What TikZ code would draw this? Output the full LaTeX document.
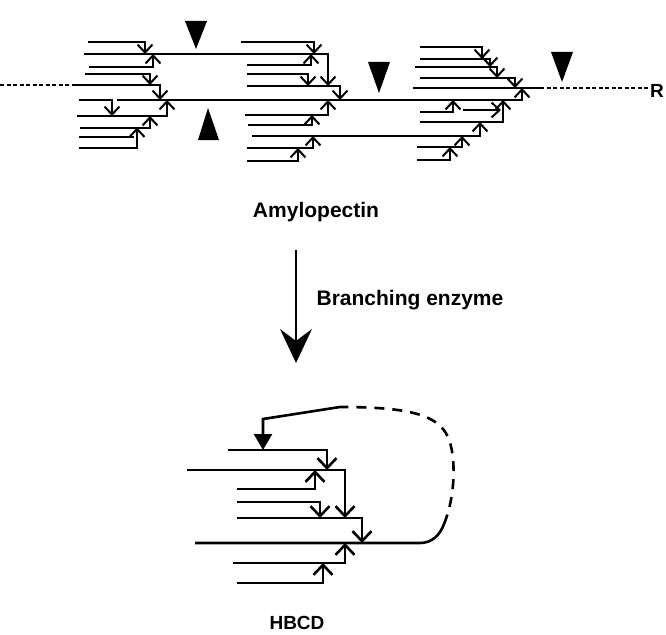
\documentclass[tikz,border=0pt]{standalone}
\usepackage{fontspec}
\setmainfont{Liberation Sans}
\usetikzlibrary{arrows.meta}
\begin{document}
\begin{tikzpicture}[x=1pt,y=-1pt,
  br/.style={line width=2pt,-{Straight Barb[length=8pt,width=15pt]}},
  pl/.style={line width=2pt},
  dotl/.style={line width=2pt, dash pattern=on 4pt off 2.5pt},
  hb/.style={line width=2.6pt,-{Straight Barb[length=10pt,width=19pt]}},
  hl/.style={line width=2.6pt},
  hdash/.style={line width=2.6pt, dash pattern=on 10pt off 8pt},
  tri/.style={fill=black},
  lbl/.style={font=\fontsize{21}{25}\selectfont\bfseries, inner sep=0pt, anchor=base},
  bigarrow/.style={line width=1.8pt,-{Stealth[length=34pt,width=32pt,inset=12pt]}}]
\useasboundingbox (0,0) rectangle (666,634);

% ---------- cluster 1 ----------
\draw[br] (88,42.5) -| (145,54);
\draw[br] (89,67) -| (153,54);
\draw[br] (85,74) -| (150,85);
\draw[dotl] (0,85) -- (75,85);
\draw[br] (75,85) -| (160,100);
\draw[br] (79,100) -| (112,116);
\draw[br] (77,116) -| (167,100);
\draw[br] (80,127.5) -| (150,116);
\draw[pl] (79,137) -- (134,137);
\draw[br] (79,148) -| (137,127.5);
\draw[br] (84,54) -| (328,86);

% ---------- cluster 2 ----------
\draw[br] (241,42.5) -| (314,54);
\draw[br] (247,65) -| (311,54);
\draw[br] (247,74) -| (308,86);
\draw[br] (247,86) -| (340,100);
\draw[br] (117,100) -| (522,88);
\draw[br] (245,115) -| (328,100);
\draw[br] (248,125) -| (312,115);
\draw[br] (252,136) -| (480,122);
\draw[br] (247,148) -| (313,136);
\draw[br] (247,161) -| (298,148);

% ---------- cluster 3 ----------
\draw[br] (420,47) -| (482,59);
\draw[br] (420,59) -| (490,67);
\draw[br] (415,67) -| (497,78);
\draw[br] (420,78) -| (515,88);
\draw[pl] (413,88) -- (540,88);
\draw[dotl] (540,88) -- (648,88);
\node[font=\fontsize{19}{22}\selectfont\bfseries, inner sep=0pt, anchor=west] (R) at (650,91) {R};
\draw[br] (420,112) -| (453,100);
\draw[br] (420,122) -| (503,100);
\draw[br] (463,110) -- (501,110);
\draw[br] (417,147) -| (462,136);
\draw[br] (417,160) -| (450,147);

% ---------- cleavage triangles ----------
\fill[tri] (185,21) -- (207,21) -- (196,49) -- cycle;
\fill[tri] (198,140) -- (219,140) -- (208,108) -- cycle;
\fill[tri] (368,62) -- (390,62) -- (379,93) -- cycle;
\fill[tri] (551,52) -- (573,52) -- (562,82) -- cycle;

% ---------- labels and reaction arrow ----------
\node[lbl] (amy) at (316,217) {Amylopectin};
\coordinate (ar1) at (296,250);
\coordinate (ar2) at (296,363);
\draw[bigarrow] (ar1) -- (ar2);
\node[lbl] (enz) at (410,305) {Branching enzyme};
\node[lbl, font=\fontsize{19}{22}\selectfont\bfseries] (hbcd) at (297,629) {HBCD};

% ---------- HBCD ----------
\draw[hb] (228,450) -| (327,470);
\draw[hb] (187,470) -| (345,518);
\draw[hb] (237,489) -| (315,470);
\draw[hb] (237,502) -| (320,518);
\draw[hb] (237,518) -| (362,543);
\draw[hl] (195,543) -- (420,543) .. controls (432,543) and (440,535) .. (444,524);
\draw[hdash] (444,524) .. controls (456,495) and (456,455) .. (448,437)
   .. controls (438,415) and (410,407) .. (340,407);
\draw[hl,-{Triangle[length=16pt,width=18pt]}] (340,407) -- (263,419) -- (263,450);
\draw[hb] (233,563) -| (345,543);
\draw[hb] (237,583) -| (323,563);
\end{tikzpicture}
\end{document}
